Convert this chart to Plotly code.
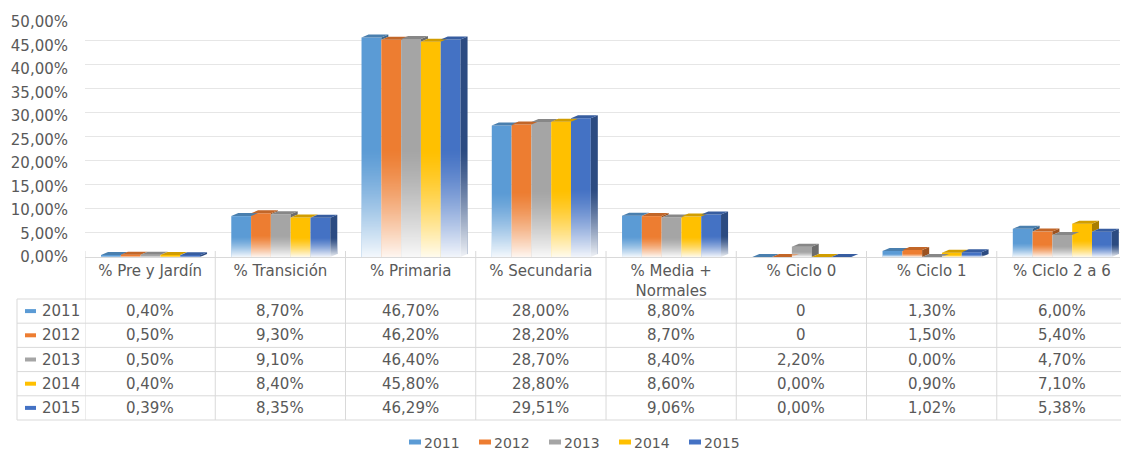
import base64
import struct
import zlib

import plotly.graph_objects as go

# ---------------- data ----------------
categories = ["% Pre y Jardín", "% Transición", "% Primaria", "% Secundaria",
              "% Media + Normales", "% Ciclo 0", "% Ciclo 1", "% Ciclo 2 a 6"]
years = ["2011", "2012", "2013", "2014", "2015"]
values_2011 = [0.40, 8.70, 46.70, 28.00, 8.80, 0.00, 1.30, 6.00]
values_2012 = [0.50, 9.30, 46.20, 28.20, 8.70, 0.00, 1.50, 5.40]
values_2013 = [0.50, 9.10, 46.40, 28.70, 8.40, 2.20, 0.00, 4.70]
values_2014 = [0.40, 8.40, 45.80, 28.80, 8.60, 0.00, 0.90, 7.10]
values_2015 = [0.39, 8.35, 46.29, 29.51, 9.06, 0.00, 1.02, 5.38]
series_values = [values_2011, values_2012, values_2013, values_2014, values_2015]
# cells the source table shows as a bare "0"
plain_zero_cells = {("2011", "% Ciclo 0"), ("2012", "% Ciclo 0")}
y_ticks = [0, 5, 10, 15, 20, 25, 30, 35, 40, 45, 50]
colors = ["#5B9BD5", "#ED7D31", "#A5A5A5", "#FFC000", "#4472C4"]

# ---------------- layout constants ----------------
W, H = 1121, 451
L, R, T, B = 85, 1120, 16, 257
FONT = "DejaVu Sans"
TXT = "#595959"
GRID = "#E6E6E6"
LINE = "#D9D9D9"

x_min, x_max = -0.5, 7.446
px_per_y = (B - 22) / 50.0          # front plane: 50 % sits at pixel 22
y_top = (B - T) / px_per_y
grid_px = (256 - 16) / 50.0         # back wall grid: 0 at 256, 50 at 16
y2_min = -(B - 256) / grid_px

bar_w = 0.152
group_left = -0.377
dx = 0.054
dy = 3.0 / px_per_y
fade_share = 0.5


def py2paper(py):
    return (B - py) / (B - T)


def px2paper(px):
    return (px - L) / (R - L)


def shade(hexcol, f):
    h = hexcol.lstrip("#")
    r, g, b = (int(h[k:k + 2], 16) for k in (0, 2, 4))
    return "#%02X%02X%02X" % (int(r * f), int(g * f), int(b * f))


def fmt(v):
    return f"{v:.2f}".replace(".", ",") + "%"


def gradient_png(w=2, h=128, max_alpha=0.93, power=1.3):
    rows = []
    for k in range(h):
        t = (k + 0.5) / h
        a = int(round(255 * max_alpha * t ** power))
        rows.append(b"\x00" + bytes([255, 255, 255, a]) * w)
    raw = b"".join(rows)

    def chunk(tag, data):
        c = struct.pack(">I", len(data)) + tag + data
        return c + struct.pack(">I", zlib.crc32(tag + data) & 0xFFFFFFFF)

    png = (b"\x89PNG\r\n\x1a\n"
           + chunk(b"IHDR", struct.pack(">IIBBBBB", w, h, 8, 6, 0, 0, 0))
           + chunk(b"IDAT", zlib.compress(raw))
           + chunk(b"IEND", b""))
    return "data:image/png;base64," + base64.b64encode(png).decode()


fade_src = gradient_png()

fig = go.Figure()
xs = list(range(len(categories)))
for j, (yr, vals, col) in enumerate(zip(years, series_values, colors)):
    fig.add_trace(go.Bar(
        x=xs, y=vals, name=yr, width=bar_w, offset=group_left + j * bar_w,
        marker=dict(color=col, line=dict(width=0)),
        hovertemplate="%{y:.2f}%<extra>" + yr + "</extra>",
    ))

# ---- 3D faces as filled polygons derived from the values ----
for j, (yr, vals, col) in enumerate(zip(years, series_values, colors)):
    tx, ty, sx, sy = [], [], [], []
    for i in xs:
        v = vals[i]
        x0 = i + group_left + j * bar_w
        x1 = x0 + bar_w
        tx += [x0, x1, x1 + dx, x0 + dx, x0, None]
        ty += [v, v, v + dy, v + dy, v, None]
        lo = 0.0 if j == len(years) - 1 else series_values[j + 1][i]
        if j == len(years) - 1 or v > lo:
            sx += [x1, x1, x1 + dx, x1 + dx, x1, None]
            sy += [lo, v, v + dy, lo + dy, lo, None]
    if sx:
        fig.add_trace(go.Scatter(x=sx, y=sy, mode="lines", fill="toself",
                                 fillcolor=shade(col, 0.66), line=dict(width=0),
                                 showlegend=False, hoverinfo="skip"))
    fig.add_trace(go.Scatter(x=tx, y=ty, mode="lines", fill="toself",
                             fillcolor=shade(col, 0.82), line=dict(width=0),
                             showlegend=False, hoverinfo="skip"))

# empty trace to carry the back-wall grid axis
fig.add_trace(go.Scatter(x=[], y=[], yaxis="y2", showlegend=False, hoverinfo="skip"))

# ---- fading lower part of every bar (smooth gradient image) ----
images = []
for j, vals in enumerate(series_values):
    for i in xs:
        v = vals[i]
        if v <= 0:
            continue
        x0 = i + group_left + j * bar_w
        wdt = bar_w + (dx if j == len(years) - 1 else 0)
        images.append(dict(source=fade_src, xref="x", yref="y", x=x0, y=fade_share * v,
                           sizex=wdt, sizey=fade_share * v, sizing="stretch",
                           xanchor="left", yanchor="top", layer="above", opacity=1))

shapes = []
annotations = []
# ---- data table grid ----
row_lines = [299, 323.2, 347.4, 371.6, 395.8, 420]
for py in row_lines:
    shapes.append(dict(type="line", xref="paper", yref="paper",
                       x0=px2paper(17), x1=px2paper(1121), y0=py2paper(py), y1=py2paper(py),
                       line=dict(color=LINE, width=1)))
shapes.append(dict(type="line", xref="paper", yref="paper",
                   x0=px2paper(17), x1=px2paper(17), y0=py2paper(299), y1=py2paper(420),
                   line=dict(color=LINE, width=1)))
for k in range(len(categories)):
    shapes.append(dict(type="line", xref="x", yref="paper",
                       x0=k - 0.5, x1=k - 0.5, y0=py2paper(251), y1=py2paper(420),
                       line=dict(color=LINE, width=1)))

for r, (yr, vals, col) in enumerate(zip(years, series_values, colors)):
    yc = (row_lines[r] + row_lines[r + 1]) / 2
    shapes.append(dict(type="rect", xref="paper", yref="paper",
                       x0=px2paper(25), x1=px2paper(36),
                       y0=py2paper(yc + 2), y1=py2paper(yc - 2),
                       fillcolor=col, line=dict(width=0)))
    annotations.append(dict(xref="paper", yref="paper", x=px2paper(40), y=py2paper(yc),
                            text=yr, showarrow=False, xanchor="left", yanchor="middle",
                            font=dict(family=FONT, size=15, color=TXT)))
    for i, cat in enumerate(categories):
        txt = "0" if (yr, cat) in plain_zero_cells else fmt(vals[i])
        annotations.append(dict(xref="x", yref="paper", x=i, y=py2paper(yc),
                                text=txt, showarrow=False, xanchor="center", yanchor="middle",
                                font=dict(family=FONT, size=15, color=TXT)))

# ---- legend (series keys under the table) ----
leg_x0, leg_pitch, leg_bottom, leg_key_y = 409, 70, 450.5, 442
for r, (yr, col) in enumerate(zip(years, colors)):
    kx = leg_x0 + r * leg_pitch
    shapes.append(dict(type="rect", xref="paper", yref="paper",
                       x0=px2paper(kx), x1=px2paper(kx + 12),
                       y0=py2paper(leg_key_y + 2.5), y1=py2paper(leg_key_y - 2.5),
                       fillcolor=col, line=dict(width=0)))
    annotations.append(dict(xref="paper", yref="paper", x=px2paper(kx + 15), y=py2paper(leg_bottom),
                            text=yr, showarrow=False, xanchor="left", yanchor="bottom",
                            borderpad=0, borderwidth=0,
                            font=dict(family=FONT, size=14, color=TXT)))

fig.update_layout(
    width=W, height=H,
    margin=dict(l=L, r=W - R, t=T, b=H - B, pad=0),
    paper_bgcolor="white", plot_bgcolor="white",
    barmode="overlay",
    separators=",.",
    showlegend=False,
    font=dict(family=FONT, size=15, color=TXT),
    xaxis=dict(range=[x_min, x_max], tickvals=xs,
               ticktext=[c.replace("+ ", "+<br>") for c in categories],
               showgrid=False, zeroline=False, showline=True, linecolor=LINE, linewidth=1,
               ticks="", tickfont=dict(family=FONT, size=15, color=TXT), fixedrange=True),
    yaxis=dict(range=[0, y_top], tickvals=y_ticks, ticktext=[fmt(t) for t in y_ticks],
               showgrid=False, zeroline=False, showline=False, ticks="",
               ticklabelstandoff=16,
               tickfont=dict(family=FONT, size=15, color=TXT), fixedrange=True),
    yaxis2=dict(overlaying="y", range=[y2_min, 50], tickvals=y_ticks,
                showgrid=True, gridcolor=GRID, gridwidth=1.3, showticklabels=False,
                zeroline=False, showline=False, ticks="", fixedrange=True),
    shapes=shapes,
    images=images,
    annotations=annotations,
)

fig.write_html("out.html", config={"displayModeBar": False},
               post_script="document.body.style.margin='0';")
